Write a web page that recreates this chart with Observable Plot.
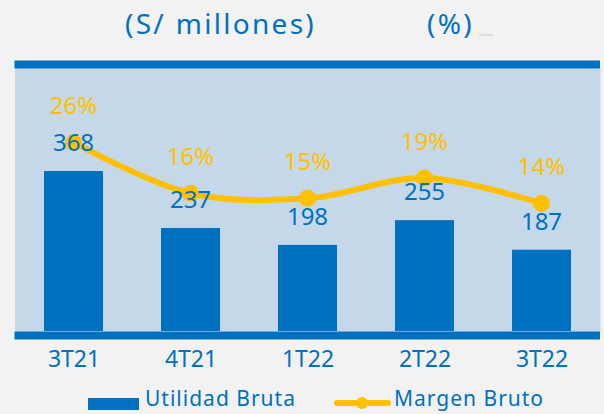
<!DOCTYPE html>
<html><head><meta charset="utf-8">
<script src="https://cdn.jsdelivr.net/npm/d3@7"></script>
<script src="https://cdn.jsdelivr.net/npm/@observablehq/plot@0.6"></script>
<style>
body{margin:0;background:#f2f2f2;font-family:"Noto Sans",sans-serif;color:#0070c0;}
#wrap{width:604px;height:414px;position:relative;overflow:hidden;background:#f2f2f2;}
#title{position:relative;height:56px;}
#title span{position:absolute;font-size:28px;line-height:32px;top:7px;white-space:nowrap;letter-spacing:2.3px;}
#dash{position:absolute;left:479px;top:34px;width:14px;height:2px;background:#dedede;}
#chart{position:relative;width:604px;height:324px;}
#chart svg{position:absolute;left:0;top:0;background:transparent;}
#legend{position:relative;height:34px;}
#legend .sw{position:absolute;}
#legend .lbl{position:absolute;font-size:21px;line-height:21px;top:8px;white-space:nowrap;letter-spacing:1px;}
</style></head>
<body>
<div id="wrap">
  <div id="title">
    <span style="left:125px">(S/ millones)</span>
    <span style="left:427px">(%)</span>
    <div id="dash"></div>
  </div>
  <div id="chart"></div>
  <div id="legend">
    <div class="sw" style="left:88px;top:18px;width:51px;height:12px;background:#0070c0"></div>
    <div class="lbl" style="left:145px">Utilidad Bruta</div>
    <div class="sw" style="left:334px;top:20px;width:57px;height:6px;border-radius:3px;background:#ffc000"></div>
    <div class="sw" style="left:356px;top:17px;width:12px;height:12px;border-radius:6px;background:#ffc000"></div>
    <div class="lbl" style="left:394px">Margen Bruto</div>
  </div>
</div>
<script>
const quarters = ["3T21", "4T21", "1T22", "2T22", "3T22"];
const utilidadBruta = [368, 237, 198, 255, 187];
const margenBruto = [26, 16, 15, 19, 14];

const BLUE = "#0070c0", PANEL = "#c5d8e9", YELLOW = "#ffc000";
const data = quarters.map((q, i) => ({q, u: utilidadBruta[i], m: margenBruto[i]}));

const base = {
  width: 604, height: 324,
  marginLeft: 14.5, marginRight: 4, marginTop: 12, marginBottom: 49,
  style: {background: "transparent", fontFamily: "Noto Sans, sans-serif", overflow: "visible"}
};

// Layer 1: panel, bars, axis
const p1 = Plot.plot({
  ...base,
  x: {type: "band", domain: quarters, paddingInner: 0.5, paddingOuter: 0.25, label: null},
  y: {domain: [0, 605], axis: null},
  marks: [
    Plot.frame({fill: PANEL, stroke: null}),
    Plot.barY(data, {x: "q", y: "u", fill: BLUE}),
    Plot.ruleY([605], {stroke: BLUE, strokeWidth: 8, dy: -4}),
    Plot.ruleY([0], {stroke: BLUE, strokeWidth: 8, dy: 4}),
    Plot.axisX({tickSize: 0, tickPadding: 19, fontSize: 23, fill: BLUE, label: null})
  ]
});

// Layer 2: margin line (secondary scale in %)
const p2 = Plot.plot({
  ...base,
  x: {type: "point", domain: quarters, padding: 0.5, axis: null},
  y: {domain: [-11.2, 40.55], axis: null},
  marks: [
    Plot.line(data, {x: "q", y: "m", curve: "catmull-rom", stroke: YELLOW, strokeWidth: 6}),
    Plot.dot(data, {x: "q", y: "m", r: 8.5, fill: YELLOW}),
    Plot.text(data, {x: "q", y: "m", text: d => d.m + "%", dy: -36, fill: YELLOW, fontSize: 24})
  ]
});

// Layer 3: bar value labels
const p3 = Plot.plot({
  ...base,
  x: {type: "point", domain: quarters, padding: 0.5, axis: null},
  y: {domain: [0, 605], axis: null},
  marks: [
    Plot.text(data, {x: "q", y: "u", text: d => String(d.u), dy: -28, fill: BLUE, fontSize: 24})
  ]
});

const c = document.getElementById("chart");
c.append(p1, p2, p3);
</script>
</body></html>
